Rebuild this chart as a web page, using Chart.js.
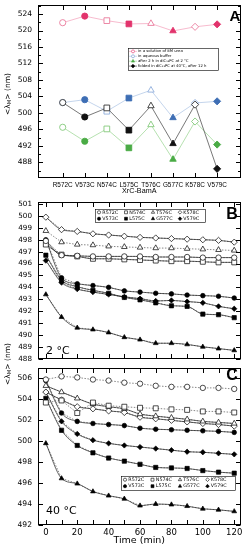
<!DOCTYPE html>
<html>
<head>
<meta charset="utf-8">
<script src="https://cdn.jsdelivr.net/npm/chart.js@4/dist/chart.umd.min.js"></script>
<style>
  body { margin: 0; background: #fff; width: 247px; height: 550px; overflow: hidden; position: relative; }
  canvas { position: absolute; left: 0; }
  #cA { top: 0; }
  #cB { top: 197px; }
  #cC { top: 363px; }
  .yl { position: absolute; transform: translate(-50%, -50%) rotate(-90deg); font: 7.5px "DejaVu Sans", sans-serif; white-space: nowrap; line-height: 1; color: #000; }
  .yl sub { font-size: 70%; vertical-align: -0.25em; }
</style>
</head>
<body>
<canvas id="cA" width="247" height="197"></canvas>
<canvas id="cB" width="247" height="167"></canvas>
<canvas id="cC" width="247" height="187"></canvas>
<div class="yl" style="left:8px;top:94px">&lt;λ<sub>M</sub>&gt; (nm)</div>
<div class="yl" style="left:8px;top:364px">&lt;λ<sub>M</sub>&gt; (nm)</div>
<script>
// mutants, one symbol each (open / filled alternate)
const names = ['R572C', 'V573C', 'N574C', 'L575C', 'T576C', 'G577C', 'K578C', 'V579C'];
const shapes = ['circle', 'circle', 'rect', 'rect', 'triangle', 'triangle', 'rectRot', 'rectRot'];
const hollow = [true, false, true, false, true, false, true, false];

// panel A: <lambda_M> per mutant
const urea8M = [521.9, 523.5, 522.4, 521.6, 521.7, 519.9, 520.9, 521.5];
const buffer = [502.5, 503.2, 500.4, 503.6, 505.5, 498.8, 502.4, 502.8];
const cold2h = [496.5, 493.1, 496.1, 491.5, 497.1, 488.7, 497.9, 492.3];
const warm12h = [502.5, 499.0, 501.2, 495.8, 501.7, 492.5, 502.0, 486.4];
const aTicks = [488, 492, 496, 500, 504, 508, 512, 516, 520, 524];
const aMinor = [486, 490, 494, 498, 502, 506, 510, 514, 518, 522, 526];

// panels B and C: kinetics
const times = [0, 10, 20, 30, 40, 50, 60, 70, 80, 90, 100, 110, 120];
const timeTicks = [0, 20, 40, 60, 80, 100, 120];
const bTicks = [488, 489, 490, 491, 492, 493, 494, 495, 496, 497, 498, 499, 500, 501];
const cTicks = [492, 494, 496, 498, 500, 502, 504, 506];

// B, 2 °C
const bR572C = [497.9, 496.7, 496.65, 496.6, 496.6, 496.6, 496.6, 496.55, 496.55, 496.55, 496.5, 496.5, 496.5];
const bN574C = [497.6, 496.75, 496.6, 496.4, 496.4, 496.35, 496.3, 496.25, 496.2, 496.2, 496.15, 496.1, 496.1];
const bT576C = [498.75, 497.8, 497.6, 497.55, 497.45, 497.4, 497.35, 497.3, 497.3, 497.25, 497.2, 497.15, 497.1];
const bK578C = [499.9, 498.85, 498.7, 498.5, 498.4, 498.3, 498.2, 498.15, 498.1, 498.05, 498.0, 497.95, 497.8];
const bV573C = [498.0, 494.8, 494.3, 494.15, 494.0, 493.7, 493.6, 493.5, 493.45, 493.35, 493.3, 493.25, 493.1];
const bL575C = [496.7, 494.6, 494.05, 493.75, 493.5, 493.15, 492.95, 492.7, 492.45, 492.4, 491.75, 491.7, 491.45];
const bG577C = [493.4, 491.5, 490.6, 490.45, 490.2, 489.8, 489.6, 489.3, 489.3, 489.2, 489.0, 488.85, 488.7];
const bV579C = [496.25, 494.4, 493.85, 493.6, 493.4, 493.2, 493.05, 492.85, 492.9, 492.8, 492.7, 492.4, 492.2];

// C, 40 °C
const cR572C = [505.9, 506.2, 506.1, 505.9, 505.8, 505.6, 505.5, 505.3, 505.2, 505.2, 505.1, 505.1, 505.0];
const cN574C = [503.7, 503.9, 502.7, 503.7, 503.4, 503.3, 503.2, 503.15, 503.05, 503.0, 502.85, 502.85, 502.75];
const cT576C = [505.3, 504.7, 504.1, 503.55, 503.3, 503.1, 502.6, 502.4, 502.25, 502.1, 501.9, 501.8, 501.7];
const cK578C = [504.7, 503.95, 503.3, 503.1, 502.9, 502.75, 502.3, 502.15, 502.0, 501.85, 501.7, 501.6, 501.45];
const cV573C = [505.8, 502.7, 501.9, 501.7, 501.6, 501.5, 501.25, 501.15, 501.1, 501.05, 501.0, 500.95, 500.85];
const cL575C = [504.1, 501.05, 499.6, 498.9, 498.4, 498.1, 497.8, 497.5, 497.45, 497.4, 497.2, 497.05, 496.95];
const cG577C = [499.8, 496.45, 495.95, 495.2, 494.8, 494.5, 493.85, 494.0, 493.95, 493.8, 493.55, 493.45, 493.3];
const cV579C = [504.7, 501.9, 500.7, 500.1, 499.8, 499.6, 499.45, 499.3, 499.15, 499.0, 498.95, 498.85, 498.75];

const FONT = 'DejaVu Sans';
const pxA = 0.5;

// box + inward ticks on all four sides
const frame = {
  id: 'frame',
  afterDraw(chart, args, o) {
    const ctx = chart.ctx, a = chart.chartArea, x = chart.scales.x, y = chart.scales.y;
    const L = Math.round(a.left) + pxA, R = Math.round(a.right) - pxA;
    const T = Math.round(a.top) + pxA, B = Math.round(a.bottom) - pxA;
    ctx.save();
    ctx.strokeStyle = '#000';
    ctx.lineWidth = 1;
    ctx.strokeRect(L, T, R - L, B - T);
    ctx.beginPath();
    (o.xMarks || []).forEach(v => {
      const p = Math.round(x.getPixelForValue(v)) + pxA;
      ctx.moveTo(p, B); ctx.lineTo(p, B - o.len);
      ctx.moveTo(p, T); ctx.lineTo(p, T + o.len);
    });
    (o.yMarks || []).forEach(v => {
      const p = Math.round(y.getPixelForValue(v)) + pxA;
      ctx.moveTo(L, p); ctx.lineTo(L + o.len, p);
      ctx.moveTo(R, p); ctx.lineTo(R - o.len, p);
    });
    (o.yMinor || []).forEach(v => {
      const p = Math.round(y.getPixelForValue(v)) + pxA;
      if (p < T || p > B) return;
      ctx.moveTo(L, p); ctx.lineTo(L + o.len * 0.55, p);
      ctx.moveTo(R, p); ctx.lineTo(R - o.len * 0.55, p);
    });
    ctx.stroke();
    ctx.restore();
  }
};

// panel letters, temperatures and the boxed legends (page coordinates, shifted by dy)
const notes = {
  id: 'notes',
  afterDraw(chart, args, o) {
    const ctx = chart.ctx, dy = o.dy || 0;
    ctx.save();
    ctx.textBaseline = 'middle';
    (o.texts || []).forEach(t => {
      ctx.fillStyle = '#000';
      ctx.font = t.font;
      ctx.textAlign = t.align || 'left';
      ctx.fillText(t.text, t.x, t.y - dy);
    });
    const lg = o.legend;
    if (lg) {
      const [x0, y0, x1, y1] = lg.box;
      ctx.fillStyle = '#fff';
      ctx.fillRect(x0, y0 - dy, x1 - x0, y1 - y0);
      ctx.strokeStyle = '#000';
      ctx.lineWidth = 0.6;
      ctx.strokeRect(x0 + 0.5, y0 - dy + 0.5, x1 - x0, y1 - y0);
      lg.items.forEach(it => {
        const yy = it.y - dy;
        if (it.line) {
          ctx.strokeStyle = it.line;
          ctx.lineWidth = 0.7;
          ctx.beginPath();
          ctx.moveTo(it.x - 4, yy); ctx.lineTo(it.x + 4, yy);
          ctx.stroke();
        }
        ctx.fillStyle = it.fill;
        ctx.strokeStyle = it.edge;
        ctx.lineWidth = 0.6;
        Chart.helpers.drawPoint(ctx, {pointStyle: it.shape, radius: it.r, borderWidth: 0.6, rotation: 0}, it.x, yy);
        ctx.fillStyle = '#000';
        ctx.font = lg.font;
        ctx.textAlign = 'left';
        ctx.fillText(it.text, it.x + lg.gap, yy);
      });
    }
    ctx.restore();
  }
};

Chart.register(frame, notes);

// keep label overhang from shrinking the plot box
function noPad(s) {
  s.paddingTop = 0; s.paddingBottom = 0; s.paddingLeft = 0; s.paddingRight = 0;
}

function sizeFor(shape, base) {
  return {circle: base, rect: base * 1.3, triangle: base * 1.2, rectRot: base * 1.15}[shape];
}

function aSeries(vals, fill, edge, line) {
  return {
    data: vals.map((v, i) => ({x: i + 1, y: v})),
    borderColor: line,
    borderWidth: 0.8,
    pointStyle: shapes,
    pointRadius: shapes.map(s => sizeFor(s, 3.1)),
    pointBackgroundColor: hollow.map(h => h ? '#fff' : fill),
    pointBorderColor: hollow.map(h => h ? edge : fill),
    pointBorderWidth: 0.9,
    tension: 0
  };
}

function marks(vals, idx) {
  const sh = shapes[idx];
  return {
    data: times.map((t, i) => ({x: t, y: vals[i]})),
    showLine: false,
    pointStyle: sh,
    pointRadius: sizeFor(sh, hollow[idx] ? 2.7 : 2.3),
    pointBackgroundColor: hollow[idx] ? '#fff' : '#000',
    pointBorderColor: '#000',
    pointBorderWidth: 0.7,
    order: 0
  };
}

function curve(vals, dotted) {
  return {
    data: times.map((t, i) => ({x: t, y: vals[i]})),
    borderColor: dotted ? '#555' : '#222',
    borderWidth: 0.7,
    borderDash: dotted ? [1.5, 1.5] : [],
    pointRadius: 0,
    cubicInterpolationMode: dotted ? 'default' : 'monotone',
    tension: 0,
    order: 1
  };
}

function kinetics(list) {
  // list: [values, mutant index, solid?, dotted?]
  const out = [];
  list.forEach(([vals, idx, solid, dotted]) => {
    if (solid) out.push(curve(vals, false));
    if (dotted) out.push(curve(vals, true));
    out.push(marks(vals, idx));
  });
  return out;
}

function yScale(min, max, ticks, size) {
  return {
    type: 'linear', min: min, max: max,
    afterBuildTicks: s => { s.ticks = ticks.map(v => ({value: v})); },
    afterFit: s => { s.width = 38; noPad(s); },
    grid: {display: false, drawTicks: false},
    border: {display: false},
    ticks: {padding: 6, color: '#000', font: {family: FONT, size: size}}
  };
}

function legendRows(xs, rows, font, gap, box) {
  const items = [];
  const order = [[0, 2, 4, 6], [1, 3, 5, 7]];
  order.forEach((row, r) => row.forEach((idx, c) => {
    items.push({x: xs[c], y: rows[r], shape: shapes[idx], r: sizeFor(shapes[idx], 1.6),
      fill: hollow[idx] ? '#fff' : '#000', edge: '#000', text: names[idx]});
  }));
  return {box: box, font: font, gap: gap, items: items};
}

// ---------- A ----------
new Chart(document.getElementById('cA'), {
  type: 'line',
  data: {
    datasets: [
      aSeries(warm12h, '#111', '#333', '#555'),
      aSeries(cold2h, '#4aab45', '#84c97c', '#a3d99c'),
      aSeries(buffer, '#3e6eb4', '#8eaedb', '#b5cae7'),
      aSeries(urea8M, '#e2336c', '#ea7b9c', '#f5aac1')
    ]
  },
  options: {
    responsive: false, animation: false, devicePixelRatio: 1, events: [],
    layout: {padding: {top: 5, right: 6.5, left: 0, bottom: 0}},
    plugins: {
      legend: {display: false}, tooltip: {enabled: false},
      frame: {xMarks: [1, 2, 3, 4, 5, 6, 7, 8], yMarks: aTicks, yMinor: aMinor, len: 4.5},
      notes: {
        texts: [{text: 'A', x: 235, y: 17, font: 'bold 15px "Liberation Sans"', align: 'center'}],
        legend: {
          box: [128, 48, 218, 70], font: '3.8px "DejaVu Sans"', gap: 5,
          items: [
            {x: 133, y: 51.4, shape: 'circle', r: 1.5, fill: '#fff', edge: '#e2336c', line: '#f5aac1', text: 'in a solution of 8M urea'},
            {x: 133, y: 56.3, shape: 'circle', r: 1.5, fill: '#fff', edge: '#6f95cf', line: '#b5cae7', text: 'in aqueous buffer'},
            {x: 133, y: 61.2, shape: 'triangle', r: 1.8, fill: '#4aab45', edge: '#4aab45', line: '#a3d99c', text: 'after 2 h in diC₁₃PC at 2 °C'},
            {x: 133, y: 66.1, shape: 'rectRot', r: 1.8, fill: '#000', edge: '#000', line: '#555', text: 'folded in diC₁₃PC at 40°C, after 12 h'}
          ]
        }
      }
    },
    scales: {
      x: {
        type: 'linear', min: -0.12, max: 9.06,
        afterBuildTicks: s => { s.ticks = names.map((n, i) => ({value: i + 1})); },
        afterFit: s => { s.height = 19.5; noPad(s); },
        grid: {display: false, drawTicks: false},
        border: {display: false},
        ticks: {callback: v => names[v - 1], padding: 3.7, autoSkip: false, maxRotation: 0, color: '#000', font: {family: 'Liberation Sans', size: 6.4}},
        title: {display: true, text: 'XrC-BamA', color: '#000', font: {family: 'Liberation Sans', size: 7.2}, padding: {top: 0, bottom: 1.8}}
      },
      y: yScale(484.3, 526.2, aTicks, 7.5)
    }
  }
});

// ---------- B ----------
new Chart(document.getElementById('cB'), {
  type: 'line',
  data: {
    datasets: kinetics([
      [bK578C, 6, true, true],
      [bT576C, 4, false, true],
      [bR572C, 0, true, true],
      [bN574C, 2, true, true],
      [bV573C, 1, true, true],
      [bV579C, 7, true, true],
      [bL575C, 3, true, true],
      [bG577C, 5, true, true]
    ])
  },
  options: {
    responsive: false, animation: false, devicePixelRatio: 1, events: [],
    layout: {padding: {top: 2, right: 6.5, left: 0, bottom: 0}},
    plugins: {
      legend: {display: false}, tooltip: {enabled: false},
      frame: {xMarks: times, yMarks: bTicks, len: 4.5},
      notes: {
        dy: 197,
        texts: [
          {text: 'B', x: 232, y: 215, font: 'bold 16px "Liberation Sans"', align: 'center'},
          {text: '2 °C', x: 46, y: 351.5, font: '11px "DejaVu Sans"'}
        ],
        legend: legendRows([99, 126, 153, 180], [212.3, 218.7], '4.8px "DejaVu Sans"', 3.3, [95, 209, 205, 222])
      }
    },
    scales: {
      x: {type: 'linear', min: -5, max: 124, display: false},
      y: yScale(487.95, 501.2, bTicks, 7.2)
    }
  }
});

// ---------- C ----------
new Chart(document.getElementById('cC'), {
  type: 'line',
  data: {
    datasets: kinetics([
      [cR572C, 0, false, true],
      [cN574C, 2, false, true],
      [cT576C, 4, true, true],
      [cK578C, 6, true, true],
      [cV573C, 1, true, true],
      [cV579C, 7, true, true],
      [cL575C, 3, true, true],
      [cG577C, 5, true, true]
    ])
  },
  options: {
    responsive: false, animation: false, devicePixelRatio: 1, events: [],
    layout: {padding: {top: 1, right: 6.5, left: 0, bottom: 0}},
    plugins: {
      legend: {display: false}, tooltip: {enabled: false},
      frame: {xMarks: times, yMarks: cTicks, len: 4.5},
      notes: {
        dy: 363,
        texts: [
          {text: 'C', x: 232, y: 376, font: 'bold 16px "Liberation Sans"', align: 'center'},
          {text: '40 °C', x: 46, y: 511.5, font: '11px "DejaVu Sans"'}
        ],
        legend: legendRows([125, 152.5, 180, 207.5], [479.7, 486.2], '4.8px "DejaVu Sans"', 3.3, [121, 476, 235, 490])
      }
    },
    scales: {
      x: {
        type: 'linear', min: -5, max: 124,
        afterBuildTicks: s => { s.ticks = timeTicks.map(v => ({value: v})); },
        afterFit: s => { s.height = 25; noPad(s); },
        grid: {display: false, drawTicks: false},
        border: {display: false},
        ticks: {padding: 2.4, autoSkip: false, maxRotation: 0, color: '#000', font: {family: FONT, size: 8.5}},
        title: {display: true, text: 'Time (min)', color: '#000', font: {family: FONT, size: 9.5}, padding: {top: 0, bottom: 3.8}}
      },
      y: yScale(492, 507.03, cTicks, 7.6)
    }
  }
});
</script>
</body>
</html>
